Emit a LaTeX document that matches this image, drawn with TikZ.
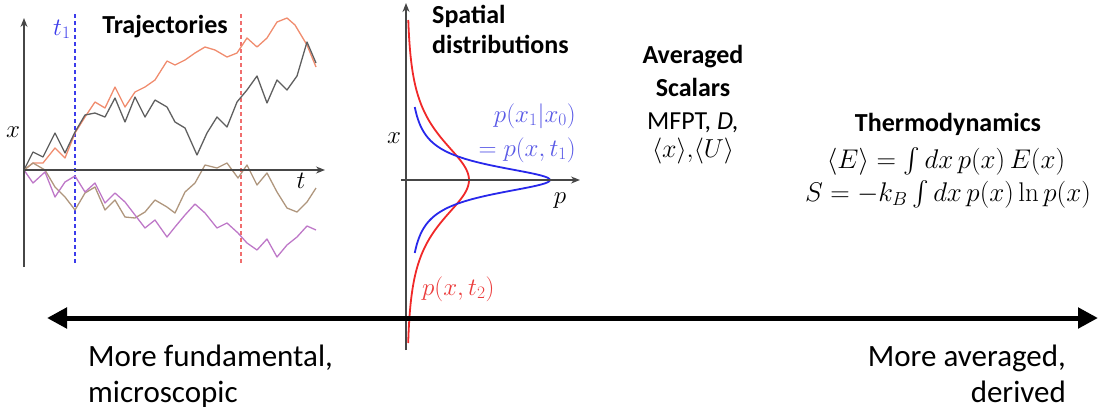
\RequirePackage{fix-cm}
\documentclass[tikz,border=0pt]{standalone}
\usepackage{amsmath}
\usepackage[no-math]{fontspec}
\setmainfont{Carlito}
\usetikzlibrary{arrows.meta, positioning}
\definecolor{axisgray}{RGB}{70, 70, 70}
\definecolor{trajorange}{RGB}{240, 140, 110}
\definecolor{trajgray}{RGB}{95, 95, 95}
\definecolor{trajbrown}{RGB}{175, 150, 125}
\definecolor{trajpurple}{RGB}{190, 120, 200}
\definecolor{markblue}{RGB}{60, 60, 235}
\definecolor{markred}{RGB}{240, 110, 110}
\definecolor{distblue}{RGB}{40, 40, 235}
\definecolor{distred}{RGB}{240, 40, 40}
\definecolor{lblblue}{RGB}{90, 90, 230}
\definecolor{lblred}{RGB}{235, 60, 60}

\begin{document}
\begin{tikzpicture}[x=1pt, y=-1pt,
    axis/.style={draw=axisgray, line width=1.4pt, -{Stealth[length=9pt, width=7pt]}},
    traj/.style={line width=1.3pt, line join=round},
    dist/.style={line width=1.8pt},
    timemark/.style={line width=1.3pt, dash pattern=on 4pt off 3pt},
    title/.style={inner sep=0pt, font=\fontsize{26}{33}\selectfont\bfseries},
    plain/.style={inner sep=0pt, font=\fontsize{26}{26}\selectfont},
    lbl/.style={inner sep=0pt, font=\fontsize{25}{30}\selectfont},
    big/.style={inner sep=0pt, font=\fontsize{31}{36}\selectfont}]

    \useasboundingbox (0,0) rectangle (1102,413);

    % Trajectories
    \coordinate (trajB) at (24,267);
    \coordinate (trajT) at (24,18);
    \coordinate (trajO) at (24,170);
    \coordinate (trajR) at (325,170);

    \foreach \tx/\col in {75/markblue, 241/markred}
    {
        \draw[timemark, \col] (\tx,14) -- (\tx,263);
    }

    \draw[traj, trajorange] plot coordinates {(24,170) (33,163) (43,163) (55,148) (65,158) (75,133) (85,117) (95,102) (105,108) (115,87) (125,107) (135,92) (145,87) (155,80) (167,61) (175,65) (185,60) (195,53) (205,47) (215,50) (227,57) (237,53) (247,38) (257,47) (267,38) (277,22) (287,18) (295,25) (307,45) (316,67)};
    \draw[traj, trajgray] plot coordinates {(24,170) (33,152) (43,157) (55,133) (65,153) (75,132) (85,115) (95,113) (105,117) (115,98) (125,122) (135,97) (145,117) (155,100) (167,107) (175,122) (185,128) (197,155) (207,133) (217,117) (227,127) (237,102) (247,90) (257,76) (267,103) (277,80) (287,90) (297,76) (307,42) (316,63)};
    \draw[traj, trajbrown] plot coordinates {(24,170) (33,163) (45,170) (55,187) (65,197) (75,210) (85,193) (95,187) (105,210) (115,200) (125,217) (135,218) (145,212) (155,200) (167,207) (175,213) (185,192) (195,183) (205,165) (217,168) (227,163) (238,178) (247,165) (257,185) (267,173) (277,192) (287,208) (297,212) (307,202) (316,188)};
    \draw[traj, trajpurple] plot coordinates {(24,170) (33,183) (45,172) (55,197) (65,182) (75,176) (85,192) (95,183) (105,203) (115,193) (125,202) (135,215) (145,228) (155,220) (167,237) (175,227) (185,215) (195,204) (205,213) (217,228) (227,223) (238,233) (247,243) (257,250) (267,239) (277,257) (287,245) (297,237) (307,226) (316,230)};

    \draw[axis] (trajB) -- (trajT);
    \draw[axis] (trajO) -- (trajR);

    \node[lbl, anchor=base west, text=markblue] (tone) at (53,35) {$t_1$};
    \node[lbl, anchor=base] (trajx) at (13,137) {$x$};
    \node[lbl, anchor=base] (trajt) at (301,188) {$t$};
    \node[title, anchor=base] (trajtitle) at (165,33) {Trajectories};

    % Spatial distributions
    \coordinate (distB) at (406,350);
    \coordinate (distT) at (406,3);
    \coordinate (distL) at (401,180);
    \coordinate (distR) at (580,180);

    \draw[dist, distred] plot[domain=20:343, samples=150, variable=\t] ({407+62/cosh((\t-180)/35)}, \t);
    \draw[dist, distblue] plot[domain=107:253, samples=150, variable=\t] ({407+143/(1+(\t-180)*(\t-180)/306.25)}, \t);

    \draw[axis] (distB) -- (distT);
    \draw[axis] (distL) -- (distR);

    \node[lbl, anchor=base] (distx) at (394,143) {$x$};
    \node[lbl, anchor=base] (distp) at (560,203) {$p$};
    \node[lbl, anchor=base east, text=lblblue] (condp) at (576,122) {$p(x_1|x_0)$};
    \node[lbl, anchor=base east, text=lblblue] (blueeq) at (576,156) {$=p(x,t_1)$};
    \node[lbl, anchor=base west, text=lblred] (redp) at (422,295) {$p(x,t_2)$};
    \node[title, font=\fontsize{26}{30}\selectfont\bfseries, align=left, anchor=north west] (spattitle) at (432,5) {Spatial\\distributions};

    % Averaged scalars
    \node[title, align=center, anchor=north] (avgtitle) at (693,45) {Averaged\\Scalars};
    \node[plain, anchor=base] (avgmfpt) at (693,129) {MFPT, \textit{D,}};
    \node[plain, anchor=base] (avgmean) at (693,157) {$\langle x\rangle{,}\langle U\rangle$};

    % Thermodynamics
    \node[title, anchor=base] (thermtitle) at (948,131) {Thermodynamics};
    \node[lbl, font=\fontsize{27}{32}\selectfont, anchor=base] (thermE) at (946,168) {$\langle E\rangle = \int dx\, p(x)\, E(x)$};
    \node[lbl, font=\fontsize{27}{32}\selectfont, anchor=base] (thermS) at (948,201) {$S = -k_B \int dx\, p(x) \ln p(x)$};

    % Scale axis
    \coordinate (micro) at (47,318);
    \coordinate (macro) at (1098,318);
    \draw[line width=5pt, {Triangle[length=20pt, width=20pt]}-{Triangle[length=20pt, width=20pt]}] (micro) -- (macro);

    \node[big, align=left, anchor=north west] (fundlbl) at (88,345) {More fundamental,\\microscopic};
    \node[big, align=right, anchor=north east] (avglbl) at (1066,345) {More averaged,\\derived};

\end{tikzpicture}
\end{document}
